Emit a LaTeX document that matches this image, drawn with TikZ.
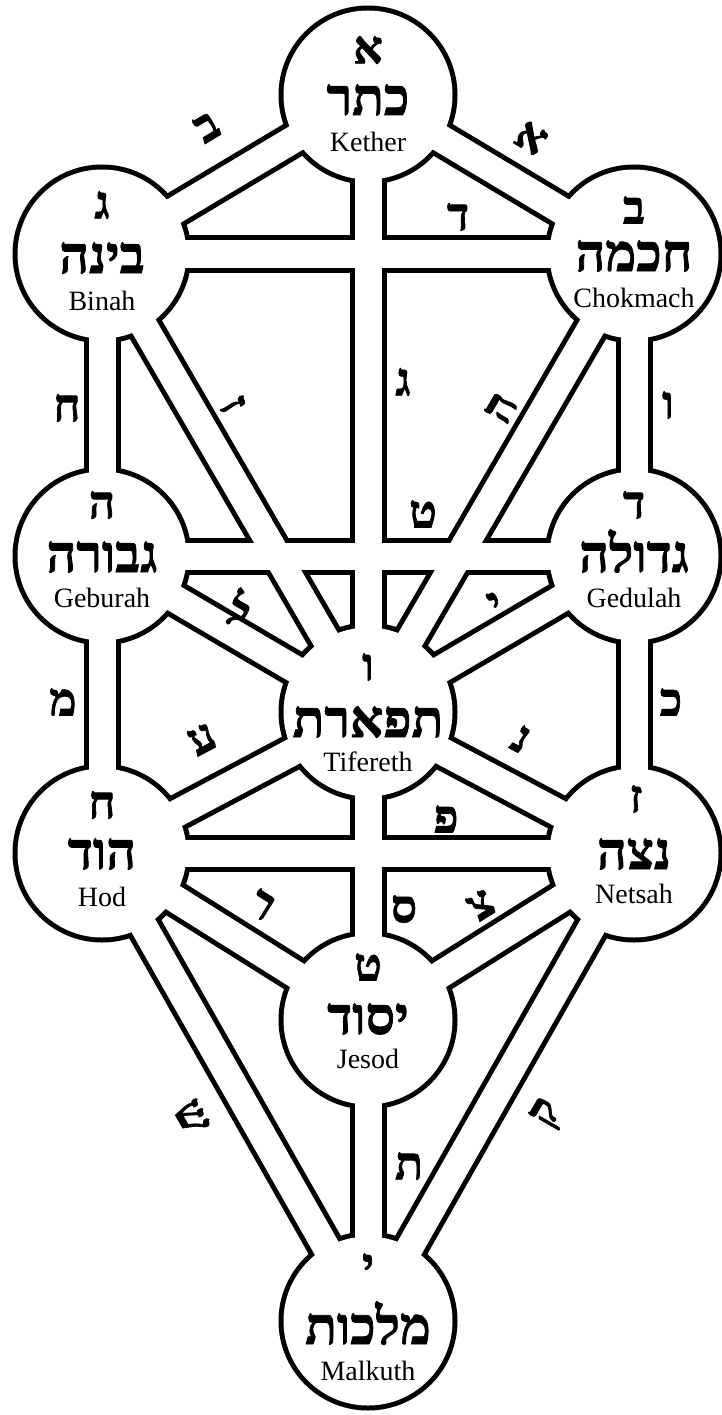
\documentclass[tikz,border=0pt]{standalone}
\usepackage{fontspec}
\setmainfont{Liberation Serif}
\newfontfamily\hebfont[Script=Hebrew,FakeBold=1.5]{Liberation Serif}
\TeXXeTstate=1
\begin{document}
\begin{tikzpicture}[x=1pt,y=-1pt,
  chanout/.style={line width=37pt,draw=black},
  chanin/.style={line width=27pt,draw=white},
  hl/.style={inner sep=0pt,font=\hebfont\bfseries\fontsize{46}{46}\selectfont},
  hw/.style={inner sep=0pt,anchor=base,font=\hebfont\bfseries\fontsize{52}{52}\selectfont},
  lat/.style={inner sep=0pt,anchor=base,font=\fontsize{28}{28}\selectfont}]
\useasboundingbox (0,0) rectangle (722,1415);
\fill[white] (0,0) rectangle (722,1415);
% sefirot centres
\coordinate (K) at (368,95);
\coordinate (Ch) at (634,254);
\coordinate (Bi) at (102,254);
\coordinate (Ge) at (634,556);
\coordinate (Gb) at (102,556);
\coordinate (T) at (368,712);
\coordinate (N) at (634,853);
\coordinate (H) at (102,853);
\coordinate (J) at (368,1020);
\coordinate (M) at (368,1321);
% outline pass
\foreach \a/\b in {K/Ch,K/Bi,K/T,Bi/Ch,Ch/T,Ch/Ge,Bi/T,Bi/Gb,Ge/Gb,Ge/T,Ge/N,Gb/T,Gb/H,T/N,T/J,T/H,N/H,N/J,N/M,H/J,H/M,J/M}
  \draw[chanout] (\a) -- (\b);
\foreach \s in {K,Ch,Bi,Ge,Gb,T,N,H,J,M}
  \fill[black] (\s) circle[radius=89.5pt];
% interior pass
\foreach \a/\b in {K/Ch,K/Bi,K/T,Bi/Ch,Ch/T,Ch/Ge,Bi/T,Bi/Gb,Ge/Gb,Ge/T,Ge/N,Gb/T,Gb/H,T/N,T/J,T/H,N/H,N/J,N/M,H/J,H/M,J/M}
  \draw[chanin] (\a) -- (\b);
\foreach \s in {K,Ch,Bi,Ge,Gb,T,N,H,J,M}
  \fill[white] (\s) circle[radius=84.5pt];
% sefirot texts
\node[hl] (lK) at (368,50) {א};
\node[hw] (hK) at (368,115) {\beginR כתר\endR};
\node[lat] (tK) at (368,152) {Kether};
\node[hl] (lBi) at (102,205) {ג};
\node[hw] (hBi) at (102,273) {\beginR בינה\endR};
\node[lat] (tBi) at (102,310) {Binah};
\node[hl] (lCh) at (634,210) {ב};
\node[hw] (hCh) at (634,271) {\beginR חכמה\endR};
\node[lat] (tCh) at (634,307) {Chokmach};
\node[hl] (lGb) at (102,505) {ה};
\node[hw] (hGb) at (102,572) {\beginR גבורה\endR};
\node[lat] (tGb) at (102,607) {Geburah};
\node[hl] (lGe) at (634,505) {ד};
\node[hw] (hGe) at (634,572) {\beginR גדולה\endR};
\node[lat] (tGe) at (634,607) {Gedulah};
\node[hl] (lT) at (368,667) {ו};
\node[hw] (hT) at (368,737) {\beginR תפארת\endR};
\node[lat] (tT) at (368,771) {Tifereth};
\node[hl] (lH) at (102,805) {ח};
\node[hw] (hH) at (102,869) {\beginR הוד\endR};
\node[lat] (tH) at (102,906) {Hod};
\node[hl] (lN) at (636,799) {ז};
\node[hw] (hN) at (634,869) {\beginR נצה\endR};
\node[lat] (tN) at (634,903) {Netsah};
\node[hl] (lJ) at (368,967) {ט};
\node[hw] (hJ) at (368,1034) {\beginR יסוד\endR};
\node[lat] (tJ) at (368,1068) {Jesod};
\node[hl] (lM) at (368,1267) {י};
\node[hw] (hM) at (368,1344) {\beginR מלכות\endR};
\node[lat] (tM) at (368,1380) {Malkuth};
% path letters
\node[hl,rotate=-31] (p1) at (531,138) {א};
\node[hl,rotate=31] (p2) at (207,127) {ב};
\node[hl] (p3) at (403,382) {ג};
\node[hl] (p4) at (458,217) {ד};
\node[hl,rotate=60] (p5) at (501,408) {ה};
\node[hl] (p6) at (668,405) {ו};
\node[hl,rotate=-60] (p7) at (233,405) {ז};
\node[hl] (p8) at (67,408) {ח};
\node[hl] (p9) at (423,514) {ט};
\node[hl,rotate=30] (p10) at (496,604) {י};
\node[hl] (p11) at (671,702) {כ};
\node[hl,rotate=-30] (p12) at (240,609) {ל};
\node[hl] (p13) at (63,702) {מ};
\node[hl,rotate=-28] (p14) at (521,739) {נ};
\node[hl] (p15) at (404,909) {ס};
\node[hl,rotate=28] (p16) at (202,739) {ע};
\node[hl] (p17) at (446,819) {פ};
\node[hl,rotate=32] (p18) at (481,905) {צ};
\node[hl,rotate=60] (p19) at (548,1114) {ק};
\node[hl,rotate=-32] (p20) at (262,905) {ר};
\node[hl,rotate=-60] (p21) at (192,1117) {ש};
\node[hl] (p22) at (409,1166) {ת};
\end{tikzpicture}
\end{document}
